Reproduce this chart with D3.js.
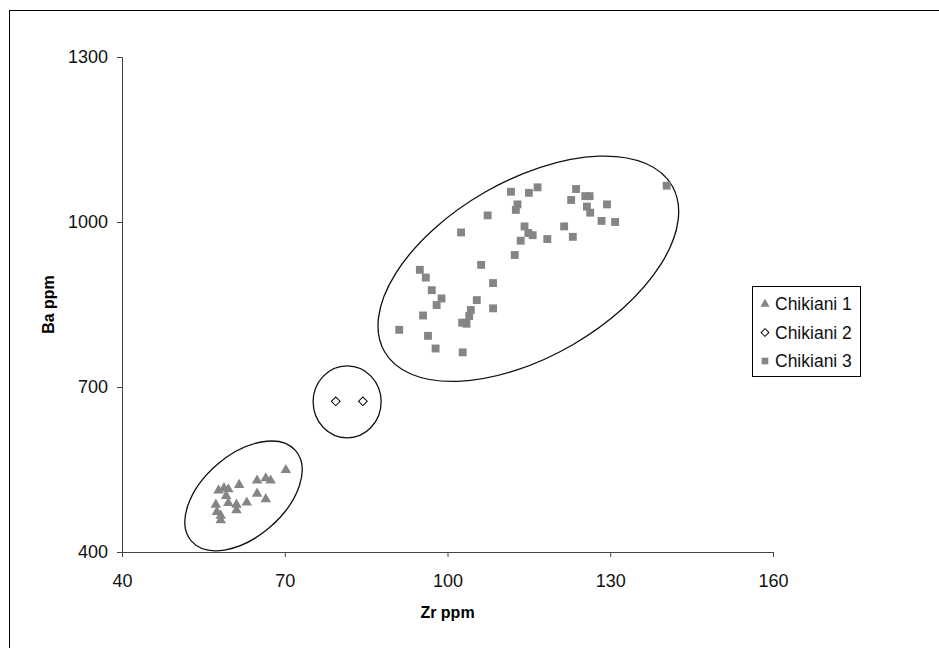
<!DOCTYPE html>
<html>
<head>
<meta charset="utf-8">
<script src="https://cdn.jsdelivr.net/npm/d3@7"></script>
<style>
	body { margin: 0; background: #fff; }
	svg { display: block; font-family: 'Liberation Sans', Arial, sans-serif; }
</style>
</head>
<body>
<div id="chart"></div>
<script>
// Zr / Ba pairs
const chikiani1 = [
	[61.6, 522], [64.9, 530], [66.5, 534], [67.4, 530], [70.2, 549],
	[57.8, 512], [58.8, 516], [59.6, 514], [59.2, 502], [64.9, 506],
	[66.5, 496], [63.0, 490], [59.6, 489], [61.1, 486], [57.3, 486],
	[61.1, 476], [57.5, 473], [58.2, 466], [58.2, 458]
];
const chikiani2 = [[79.4, 674], [84.4, 674]];
const chikiani3 = [
	[91.1, 804], [94.9, 913], [96.0, 899], [97.1, 876], [98.9, 861],
	[98.0, 849], [95.5, 830], [96.4, 793], [97.8, 770], [102.8, 763],
	[102.7, 817], [103.5, 815], [104.0, 829], [104.3, 840], [105.4, 858],
	[108.4, 843], [108.4, 889], [106.2, 922], [102.5, 981], [107.4, 1012],
	[111.7, 1055], [115.0, 1053], [116.6, 1063], [112.9, 1032], [112.6, 1022],
	[114.2, 992], [114.9, 980], [115.7, 976], [113.5, 966], [112.4, 940],
	[118.4, 969], [121.5, 992], [123.1, 973], [123.7, 1060], [122.8, 1040],
	[125.4, 1047], [126.2, 1047], [125.7, 1028], [126.3, 1017], [129.4, 1032],
	[128.4, 1002], [130.9, 1000], [140.4, 1066]
];
const seriesNames = ['Chikiani 1', 'Chikiani 2', 'Chikiani 3'];
const xTicks = [40, 70, 100, 130, 160];
const yTicks = [400, 700, 1000, 1300];
// group outlines: centre in Zr / Ba
const groupCentres = [[62.4, 502], [81.5, 673], [114.9, 915]];

const width = 939;
const height = 648;
const grey = '#858585';

const svg = d3.select('#chart')
	.append('svg')
	.attr('width', width)
	.attr('height', height);

// outer frame, cut off on the right and bottom
svg.append('rect')
	.attr('x', 9.5)
	.attr('y', 10.5)
	.attr('width', 1000)
	.attr('height', 1000)
	.attr('fill', 'none')
	.attr('stroke', '#000');

const x = d3.scaleLinear().domain([40, 160]).range([122, 773]);
const y = d3.scaleLinear().domain([400, 1300]).range([552, 57]);

const xAxis = svg.append('g')
	.attr('transform', `translate(0,${y(400)})`)
	.call(d3.axisBottom(x).tickValues(xTicks).tickFormat(d3.format('d'))
		.tickSizeOuter(0).tickSize(5).tickPadding(17));

const yAxis = svg.append('g')
	.attr('transform', `translate(${x(40)},0)`)
	.call(d3.axisLeft(y).tickValues(yTicks).tickFormat(d3.format('d'))
		.tickSizeOuter(0).tickSize(5).tickPadding(9));

[xAxis, yAxis].forEach(ax => {
	ax.select('.domain').attr('stroke', '#444');
	ax.selectAll('.tick line').attr('stroke', '#444');
	ax.selectAll('.tick text')
		.attr('fill', '#111')
		.style('font-size', '18px')
		.style('font-family', "'Liberation Sans', Arial, sans-serif");
});

svg.append('text')
	.attr('x', (x(40) + x(160)) / 2)
	.attr('y', 618)
	.attr('text-anchor', 'middle')
	.attr('font-weight', 'bold')
	.attr('font-size', 16)
	.text('Zr ppm');

svg.append('text')
	.attr('transform', `translate(54,${(y(400) + y(1300)) / 2}) rotate(-90)`)
	.attr('text-anchor', 'middle')
	.attr('font-weight', 'bold')
	.attr('font-size', 16)
	.text('Ba ppm');

// ellipses drawn round each group
const outlines = [
	{ rx: 69, ry: 41, rot: -41 },
	{ rx: 34, ry: 36, rot: 0 },
	{ rx: 166, ry: 88, rot: -30 }
];
svg.append('g')
	.selectAll('ellipse')
	.data(groupCentres)
	.enter()
	.append('ellipse')
	.attr('transform', (d, i) => `translate(${x(d[0])},${y(d[1])}) rotate(${outlines[i].rot})`)
	.attr('rx', (d, i) => outlines[i].rx)
	.attr('ry', (d, i) => outlines[i].ry)
	.attr('fill', 'none')
	.attr('stroke', '#111')
	.attr('stroke-width', 1.3);

const triangle = d3.symbol().type(d3.symbolTriangle).size(48);
const square = d3.symbol().type(d3.symbolSquare).size(62);
const diamond = d3.symbol().type(d3.symbolSquare).size(38);

const drawPoints = (data, path, fill, stroke, rot) => {
	svg.append('g')
		.selectAll('path')
		.data(data)
		.enter()
		.append('path')
		.attr('d', path)
		.attr('transform', d => `translate(${x(d[0])},${y(d[1])}) rotate(${rot})`)
		.attr('fill', fill)
		.attr('stroke', stroke);
};

drawPoints(chikiani3, square, grey, 'none', 0);
drawPoints(chikiani1, triangle, grey, 'none', 0);
drawPoints(chikiani2, diamond, '#fff', '#000', 45);

// legend
const legend = svg.append('g').attr('transform', 'translate(752,286)');
legend.append('rect')
	.attr('x', 0.5)
	.attr('y', 0.5)
	.attr('width', 108)
	.attr('height', 90)
	.attr('fill', '#fff')
	.attr('stroke', '#000');

const legendSymbols = [
	{ path: d3.symbol().type(d3.symbolTriangle).size(36), fill: grey, stroke: 'none', rot: 0 },
	{ path: d3.symbol().type(d3.symbolSquare).size(30), fill: '#fff', stroke: '#000', rot: 45 },
	{ path: d3.symbol().type(d3.symbolSquare).size(44), fill: grey, stroke: 'none', rot: 0 }
];

const items = legend.selectAll('g.item')
	.data(seriesNames)
	.enter()
	.append('g')
	.attr('class', 'item')
	.attr('transform', (d, i) => `translate(0,${18 + i * 28.5})`);

items.append('path')
	.attr('d', (d, i) => legendSymbols[i].path())
	.attr('transform', (d, i) => `translate(13,0) rotate(${legendSymbols[i].rot})`)
	.attr('fill', (d, i) => legendSymbols[i].fill)
	.attr('stroke', (d, i) => legendSymbols[i].stroke);

items.append('text')
	.attr('x', 23)
	.attr('dy', '0.35em')
	.attr('font-size', 17.5)
	.attr('fill', '#111')
	.text(d => d);
</script>
</body>
</html>
